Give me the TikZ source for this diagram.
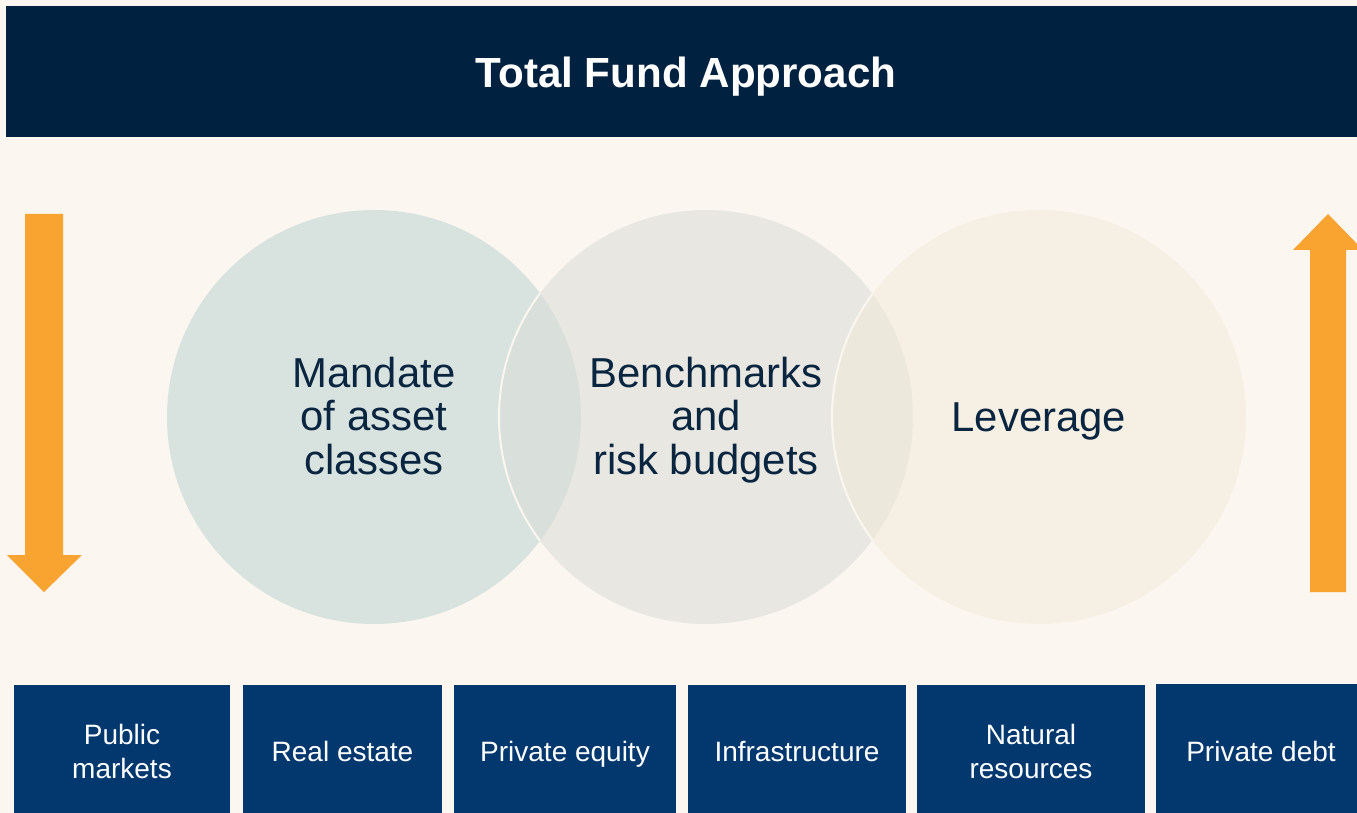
\documentclass[tikz,border=0pt]{standalone}
\usepackage{fontspec}
\setmainfont{Liberation Sans}
\definecolor{bgc}{RGB}{251,246,240}
\definecolor{titlec}{RGB}{0,33,64}
\definecolor{boxc}{RGB}{2,56,110}
\definecolor{orangec}{RGB}{249,164,49}
\definecolor{inkc}{RGB}{10,37,64}
\definecolor{circa}{RGB}{216,227,224}
\definecolor{circb}{RGB}{218,220,215}
\definecolor{circc}{RGB}{242,233,216}
\begin{document}
\begin{tikzpicture}[x=0.75pt,y=-0.75pt,
  circ/.style={circle, minimum size=310.5pt, inner sep=0pt, text=inkc, text opacity=1},
  circtext/.style={align=center, text=inkc, font=\fontsize{31.4}{32.6}\selectfont},
  catbox/.style={fill=boxc, inner sep=0pt, anchor=north west},
  cattext/.style={align=center, text=white, font=\fontsize{21}{25.5}\selectfont},
  arrowc/.style={fill=orangec}]
\fill[bgc] (0,0) rectangle (1357,813);
\useasboundingbox (0,0) rectangle (1357,813);
% title band
\node[fill=titlec, minimum width=1013.25pt, minimum height=98.25pt, inner sep=0pt, anchor=north west] (band) at (6,6) {};
\node[anchor=base, text=white, font=\fontsize{31.6}{36}\selectfont\bfseries] (title) at (686,88) {Total Fund Approach};
% circles
\node[circ, fill=circa] (c1) at (374,417) {};
\node[circ, fill=circb, fill opacity=0.55] (c2) at (706,417) {};
\begin{scope}
  \clip (c1.center) circle[radius=155.25pt];
  \draw[bgc, line width=1.5pt] (c2.center) circle[radius=155.25pt];
\end{scope}
\node[circ, fill=circc, fill opacity=0.53] (c3) at (1039,417) {};
\begin{scope}
  \clip (c2.center) circle[radius=155.25pt];
  \draw[bgc, line width=1.5pt] (c3.center) circle[radius=155.25pt];
\end{scope}
\node[circtext] (t1) at (374,416) {Mandate\\of asset\\classes};
\node[circtext] (t2) at (706,420) {Benchmarks\\and\\risk budgets};
\node[circtext] (t3) at (1039,421) {Leverage};
% arrows
\fill[arrowc] (25,214) -- (63,214) -- (63,555) -- (82,555) -- (44,592) -- (7,555) -- (25,555) -- cycle;
\fill[arrowc] (1310,592) -- (1346,592) -- (1346,250) -- (1363,250) -- (1328,214) -- (1293,250) -- (1310,250) -- cycle;
% category boxes
\node[catbox, minimum width=162pt, minimum height=100pt] (b1) at (14,685) {};
\node[catbox, minimum width=149.25pt, minimum height=100pt] (b2) at (243,685) {};
\node[catbox, minimum width=166.5pt, minimum height=100pt] (b3) at (454,685) {};
\node[catbox, minimum width=163.5pt, minimum height=100pt] (b4) at (688,685) {};
\node[catbox, minimum width=171pt, minimum height=100pt] (b5) at (917,685) {};
\node[catbox, minimum width=155pt, minimum height=100pt] (b6) at (1156,684) {};
\node[cattext] (l1) at (122,751) {Public\\markets};
\node[cattext, anchor=base] (l2) at (342.5,761) {Real estate};
\node[cattext, anchor=base] (l3) at (565,761) {Private equity};
\node[cattext, anchor=base] (l4) at (797,761) {Infrastructure};
\node[cattext] (l5) at (1031,751) {Natural\\resources};
\node[cattext, anchor=base] (l6) at (1261,761) {Private debt};
\end{tikzpicture}
\end{document}
